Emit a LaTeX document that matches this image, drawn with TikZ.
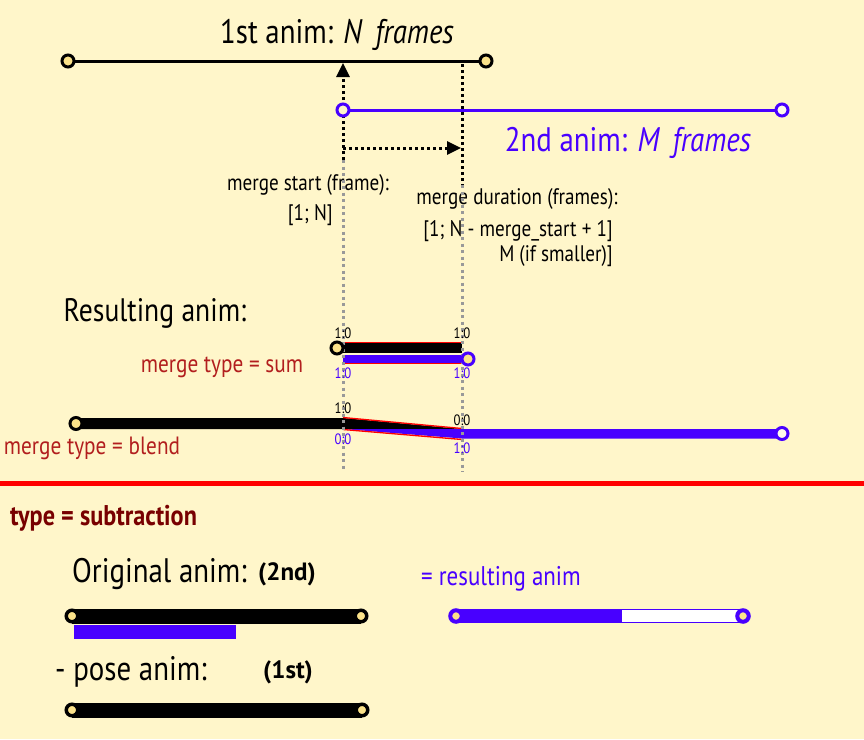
\documentclass[tikz,border=0pt]{standalone}
\usepackage{fontspec}
\setmainfont{PT Sans}[FakeStretch=0.85]
\newfontfamily\widesans{PT Sans}
\usetikzlibrary{arrows.meta}
\definecolor{bgcol}{RGB}{255,246,202}
\definecolor{animblue}{RGB}{72,0,255}
\definecolor{typered}{RGB}{178,30,30}
\definecolor{maroon}{RGB}{120,0,0}
\definecolor{ptyellow}{RGB}{251,226,138}
\tikzset{
  endpt/.style={circle,draw=black,line width=3pt,fill=ptyellow,minimum size=12pt,inner sep=0pt},
  bendpt/.style={endpt,draw=animblue},
  bigtxt/.style={font=\fontsize{34}{38}\selectfont,inner sep=0pt},
  midtxt/.style={font=\fontsize{22.5}{26}\selectfont,inner sep=0pt},
  boldtxt/.style={font=\fontsize{28.5}{32}\selectfont\bfseries,inner sep=0pt},
  widebold/.style={font=\widesans\fontsize{25}{28}\selectfont\bfseries,inner sep=0pt},
  redtxt/.style={font=\fontsize{25}{28}\selectfont,text=typered,inner sep=0pt},
  smalltxt/.style={font=\fontsize{15}{16}\selectfont,inner sep=0pt},
  blackdots/.style={line width=3pt,dash pattern=on 3pt off 3pt},
  graydots/.style={line width=3pt,dash pattern=on 3pt off 3.5pt,draw=black!40},
  tip/.style={-{Triangle[length=14pt,width=13pt]}}
}
\begin{document}
\begin{tikzpicture}[x=1pt,y=-1pt]
\fill[bgcol] (0,0) rectangle (864,739);
\useasboundingbox (0,0) rectangle (864,739);

% top lines
\coordinate (a1s) at (68,61);
\coordinate (a1e) at (486,61);
\coordinate (a2s) at (343,110);
\coordinate (a2e) at (782,110);
\draw[line width=3pt] (a1s) -- (a1e);
\draw[line width=3pt,animblue] (a2s) -- (a2e);

\node[bigtxt] (t1) at (337,35) {1st anim: \textit{N\, frames}};
\node[bigtxt,text=animblue] (t2) at (628,143) {2nd anim: \textit{M\, frames}};

% gray guide lines
\coordinate (g1t) at (343,160);
\coordinate (g1b) at (343,472);
\coordinate (g2t) at (462,185);
\coordinate (g2b) at (462,472);

% black dotted arrows
\coordinate (arrUp) at (343,63);
\coordinate (d2t) at (462,64);
\coordinate (harrS) at (343,148);
\coordinate (harrE) at (461,148);
\draw[blackdots,tip] (g1t) -- (arrUp);
\draw[blackdots] (d2t) -- (g2t);
\draw[blackdots,tip] (harrS) -- (harrE);

\node[midtxt] (ms1) at (308,185) {merge start (frame):};
\node[midtxt,anchor=east] (ms2) at (333,215) {[1; N]};
\node[midtxt] (md1) at (517,199) {merge duration (frames):};
\node[midtxt,anchor=east] (md2) at (613,231) {[1; N - merge\_start + 1]};
\node[midtxt,anchor=east] (md3) at (613,256) {M (if smaller)]};

\node[bigtxt,font=\fontsize{32.5}{36}\selectfont] (res) at (155,313) {Resulting anim:};

% sum
\coordinate (s1s) at (337,348);
\coordinate (s1e) at (462,348);
\coordinate (s2s) at (343,359);
\coordinate (s2e) at (468,359);
\draw[line width=10pt] (s1s) -- (s1e);
\draw[red,line width=1.3pt] (343,342.5) -- (462,342.5);
\draw[animblue,line width=8pt] (s2s) -- (s2e);
\draw[red,line width=1.3pt] (343,363.5) -- (462,363.5);
\node[redtxt] (sumlbl) at (222,367) {merge type = sum};

% blend
\coordinate (b1s) at (76,423.5);
\coordinate (b2e) at (782,433.5);
\fill[black] (76,418) -- (343,418) -- (462,429) -- (343,429) -- (76,429) -- cycle;
\fill[animblue] (343,429) -- (462,429) -- (782,429) -- (782,438.5) -- (462,438.5) -- cycle;
\draw[red,line width=1.3pt] (343,417.5) -- (462,428.5);
\draw[red,line width=1.3pt] (343,429.5) -- (462,439.5);
\node[redtxt] (blendlbl) at (92,448) {merge type = blend};

% guide lines drawn over bars
\draw[graydots] (g1t) -- (g1b);
\draw[graydots] (g2t) -- (g2b);

% value labels
\node[smalltxt] (v1) at (343,333) {1:0};
\node[smalltxt] (v2) at (462,333) {1:0};
\node[smalltxt,text=animblue] (v3) at (343,373) {1:0};
\node[smalltxt,text=animblue] (v4) at (462,373) {1:0};
\node[smalltxt] (v5) at (343,408) {1:0};
\node[smalltxt,text=animblue] (v6) at (343,439) {0:0};
\node[smalltxt] (v7) at (462,420) {0:0};
\node[smalltxt,text=animblue] (v8) at (462,448) {1:0};

% end points
\node[endpt] (pa1s) at (a1s) {};
\node[endpt] (pa1e) at (a1e) {};
\node[bendpt,fill=bgcol] (pa2s) at (a2s) {};
\node[bendpt,fill=white!60!bgcol] (pa2e) at (a2e) {};
\node[endpt] (ps1) at (s1s) {};
\node[bendpt] (ps2) at (s2e) {};
\node[endpt] (pb1) at (b1s) {};
\node[bendpt,fill=white!60!bgcol] (pb2) at (b2e) {};

% separator
\coordinate (sepL) at (0,483);
\coordinate (sepR) at (864,483);
\draw[red,line width=5pt] (sepL) -- (sepR);

% subtraction
\node[boldtxt,text=maroon,anchor=west] (sub) at (10,518) {type = subtraction};
\node[bigtxt,anchor=west] (orig) at (72,574) {Original anim:};
\node[widebold,anchor=west] (o2) at (258,574) {(2nd)};
\node[redtxt,font=\fontsize{27}{30}\selectfont,text=animblue,anchor=west] (rl) at (421,579) {= resulting anim};
\node[bigtxt,anchor=west] (pose) at (55,672) {- pose anim:};
\node[widebold,anchor=west] (p1) at (263,672) {(1st)};

\coordinate (o1s) at (72,616);
\coordinate (o1e) at (361,616);
\draw[line width=15pt] (o1s) -- (o1e);
\fill[animblue] (74,625) rectangle (236,638.5);

\coordinate (r1s) at (456,616);
\coordinate (r1e) at (743,616);
\fill[white] (456,609.5) rectangle (743,622.5);
\fill[animblue] (456,609.5) rectangle (622,622.5);
\draw[animblue,line width=1.6pt] (456,609.5) rectangle (743,622.5);

\coordinate (q1s) at (72,710);
\coordinate (q1e) at (362,710);
\draw[line width=15pt] (q1s) -- (q1e);

\node[endpt,minimum size=11.5pt,line width=3.5pt] (po1s) at (o1s) {};
\node[endpt,minimum size=11.5pt,line width=3.5pt] (po1e) at (o1e) {};
\node[bendpt,minimum size=11.5pt,line width=4pt] (pr1s) at (r1s) {};
\node[bendpt,minimum size=11.5pt,line width=4pt] (pr1e) at (r1e) {};
\node[endpt,minimum size=11.5pt,line width=3.5pt] (pq1s) at (q1s) {};
\node[endpt,minimum size=11.5pt,line width=3.5pt] (pq1e) at (q1e) {};
\end{tikzpicture}
\end{document}
